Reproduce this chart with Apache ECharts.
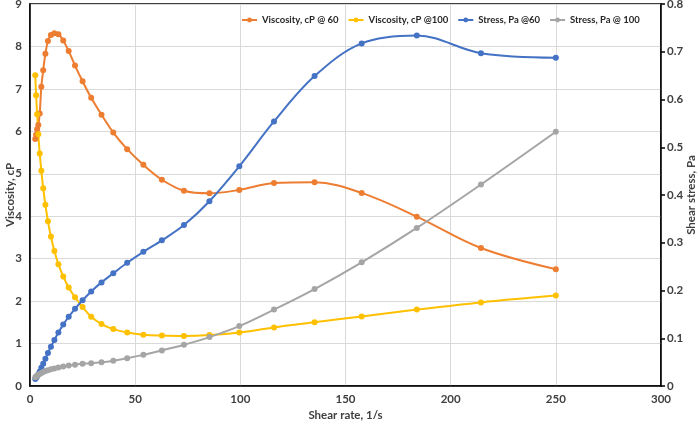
<!DOCTYPE html>
<html>
<head>
<meta charset="utf-8">
<script src="https://cdn.jsdelivr.net/npm/echarts@6/dist/echarts.min.js"></script>
<style>html,body{margin:0;padding:0;background:#fff;}#c{width:700px;height:422px;}</style>
</head>
<body>
<div id="c"></div>
<script>
const shearRate = [2.5, 2.91, 3.40, 3.96, 4.62, 5.39, 6.28, 7.32, 8.53, 9.95, 11.6, 13.5, 15.8, 18.4, 21.4, 25.0, 29.1, 34.0, 39.6, 46.2, 53.9, 62.7, 73.2, 85.3, 99.5, 116.0, 135.3, 157.7, 183.9, 214.4, 250];
const viscosity60 = [5.82, 5.92, 6.05, 6.15, 6.42, 7.05, 7.44, 7.83, 8.13, 8.27, 8.31, 8.29, 8.14, 7.89, 7.55, 7.18, 6.79, 6.39, 5.97, 5.58, 5.21, 4.86, 4.6, 4.54, 4.62, 4.78, 4.8, 4.55, 3.99, 3.25, 2.75];
const viscosity100 = [7.32, 6.85, 6.4, 5.93, 5.48, 5.07, 4.66, 4.27, 3.88, 3.52, 3.18, 2.87, 2.58, 2.32, 2.09, 1.86, 1.63, 1.46, 1.34, 1.26, 1.21, 1.19, 1.18, 1.2, 1.26, 1.38, 1.5, 1.64, 1.8, 1.97, 2.13];
const stress60 = [0.0146, 0.0172, 0.0206, 0.0244, 0.0297, 0.038, 0.0467, 0.0573, 0.0693, 0.0823, 0.0964, 0.112, 0.1286, 0.145, 0.1616, 0.1795, 0.198, 0.217, 0.236, 0.258, 0.281, 0.305, 0.337, 0.387, 0.46, 0.554, 0.649, 0.7175, 0.734, 0.697, 0.6875];
const stress100 = [0.0183, 0.0199, 0.0218, 0.0235, 0.0253, 0.0273, 0.0293, 0.0313, 0.0331, 0.035, 0.0369, 0.0387, 0.0408, 0.0427, 0.0447, 0.0465, 0.0474, 0.0496, 0.0531, 0.0582, 0.0652, 0.0746, 0.0864, 0.1024, 0.1254, 0.160, 0.203, 0.259, 0.331, 0.422, 0.5325];
const seriesNames = ['Viscosity, cP @ 60', 'Viscosity, cP @100', 'Stress, Pa @60', 'Stress, Pa @ 100'];
const colors = ['#ED7D31', '#FFC000', '#4472C4', '#A5A5A5'];

const pair = ys => shearRate.map((x, i) => [x, ys[i]]);
const FONT = 'Lato, "Noto Sans", sans-serif';
const labelStyle = { color: '#404040', fontSize: 11.5, fontWeight: 'bold', fontFamily: FONT };

const chart = echarts.init(document.getElementById('c'), null, { renderer: 'canvas' });
const mk = (name, data, color, yIdx) => ({
  name, type: 'line', data, yAxisIndex: yIdx, smooth: 0.35,
  symbol: 'circle', symbolSize: 6, showSymbol: true,
  lineStyle: { color, width: 2 }, itemStyle: { color },
  emphasis: { disabled: true }, animation: false
});
chart.setOption({
  animation: false,
  color: colors,
  grid: { left: 30, right: 39, top: 4, bottom: 36, containLabel: false, outerBoundsMode: 'none', show: true, borderColor: '#000', borderWidth: 1.5, backgroundColor: '#fff' },
  legend: {
    top: 10, left: 236, right: 0, itemGap: 9, itemWidth: 15, itemHeight: 6,
    textStyle: { color: '#262626', fontSize: 9.5, fontWeight: 'bold', fontFamily: FONT },
    data: seriesNames
  },
  xAxis: {
    type: 'value', min: 0, max: 300, interval: 50,
    name: 'Shear rate, 1/s', nameLocation: 'middle', nameGap: 23, nameMoveOverlap: false,
    nameTextStyle: labelStyle,
    axisLine: { show: true, lineStyle: { color: '#000', width: 1.5 } },
    axisTick: { show: false },
    axisLabel: Object.assign({ margin: 7 }, labelStyle),
    splitLine: { show: true, lineStyle: { color: '#D9D9D9', width: 1 } }
  },
  yAxis: [{
    type: 'value', min: 0, max: 9, interval: 1, position: 'left',
    name: 'Viscosity, cP', nameLocation: 'middle', nameGap: 14, nameRotate: 90, nameMoveOverlap: false,
    nameTextStyle: labelStyle,
    axisLine: { show: true, lineStyle: { color: '#000', width: 1.5 } },
    axisTick: { show: false },
    axisLabel: Object.assign({ margin: 8 }, labelStyle),
    splitLine: { show: true, lineStyle: { color: '#D9D9D9', width: 1 } }
  }, {
    type: 'value', min: 0, max: 0.8, interval: 0.1, position: 'right',
    name: 'Shear stress, Pa', nameLocation: 'middle', nameGap: 24, nameRotate: 90, nameMoveOverlap: false,
    nameTextStyle: labelStyle,
    axisLine: { show: true, lineStyle: { color: '#000', width: 1.5 } },
    axisTick: { show: true, inside: false, length: 4, lineStyle: { color: '#000', width: 1.5 } },
    axisLabel: Object.assign({ margin: 6, formatter: v => (Math.round(v * 10) / 10).toString() }, labelStyle),
    splitLine: { show: false }
  }],
  series: [
    mk(seriesNames[0], pair(viscosity60), colors[0], 0),
    mk(seriesNames[1], pair(viscosity100), colors[1], 0),
    mk(seriesNames[2], pair(stress60), colors[2], 1),
    mk(seriesNames[3], pair(stress100), colors[3], 1)
  ]
});
</script>
</body>
</html>
